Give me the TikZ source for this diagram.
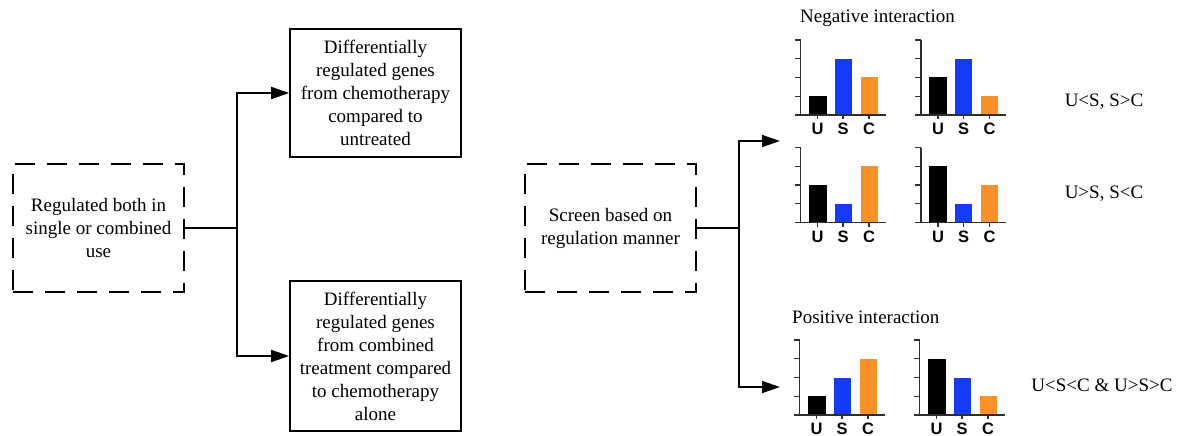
\documentclass[tikz,border=0pt]{standalone}
\usepackage{fontspec}
\setmainfont{Liberation Serif}
\newfontfamily\barfont{Liberation Sans}
\usetikzlibrary{arrows.meta}

\definecolor{barblue}{RGB}{22,58,248}
\definecolor{barorange}{RGB}{250,145,40}
\definecolor{axisgray}{RGB}{45,45,45}

\tikzset{
	solidbox/.style={draw, line width=1.6pt, minimum width=171pt, minimum height=128pt, inner sep=0pt, align=center},
	dashbox/.style={solidbox, dash pattern=on 20pt off 12pt},
	link/.style={line width=1.6pt},
	barlbl/.style={font=\barfont\bfseries\fontsize{16.5}{16.5}\selectfont, anchor=north, inner sep=0pt}
}

% bar chart: name, axis x, baseline y, heights of U, S, C
\newcommand{\drawbars}[6]{%
	\begin{scope}[shift={(#2,#3)}]
		\fill (8,0) rectangle (26,-18.75*#4);
		\fill [barblue] (34,0) rectangle (51,-18.75*#5);
		\fill [barorange] (60,0) rectangle (77,-18.75*#6);
		\draw [axisgray, line width=1.3pt] (0,-75) -- (0,0);
		\draw [axisgray, line width=1.3pt] (-6,0) -- (85,0);
		\foreach \k in {1,...,4}
			\draw [axisgray, line width=1.1pt] (-6,-18.75*\k) -- (0,-18.75*\k);
		\foreach \xx in {17,42.5,68.5}
			\draw [axisgray, line width=1.1pt] (\xx,0) -- (\xx,4);
		\node (#1-u) [barlbl] at (17,8) {U};
		\node (#1-s) [barlbl] at (42.5,8) {S};
		\node (#1-c) [barlbl] at (68.5,8) {C};
	\end{scope}}

\begin{document}
\begin{tikzpicture}[
	x=1pt, y=-1pt,
	font=\fontsize{19}{23}\selectfont,
	>={Triangle[length=18pt, width=12pt]}
	]
	\useasboundingbox (0,0) rectangle (1179,436);

	% left half
	\node (both) [dashbox] at (98.5,228) {Regulated both in\\single or combined\\use};
	\node (chemo) [solidbox] at (375.5,93) {Differentially\\regulated genes\\from chemotherapy\\compared to\\untreated};
	\node (comb) [solidbox, minimum height=150pt] at (375.5,356) {Differentially\\regulated genes\\from combined\\treatment compared\\to chemotherapy\\alone};
	\draw [link] (both.east) -- (237,228) coordinate (split);
	\draw [link, ->] (split) |- (chemo.west);
	\draw [link, ->] (split) |- (comb.west);

	% right half
	\node (screen) [dashbox] at (610.5,228) {Screen based on\\regulation manner};
	\coordinate (negend) at (780,141);
	\coordinate (posend) at (780,387);
	\draw [link] (screen.east) -- (739,228) coordinate (fork);
	\draw [link, ->] (fork) |- (negend);
	\draw [link, ->] (fork) |- (posend);

	\node (neg) [anchor=base west, inner sep=0pt] at (800,23) {Negative interaction};
	\node (pos) [anchor=base west, inner sep=0pt] at (792,323) {Positive interaction};

	\drawbars{na}{800.5}{115}{1}{3}{2}
	\drawbars{nb}{921}{115}{2}{3}{1}
	\drawbars{nc}{800.5}{222.5}{2}{1}{3}
	\drawbars{nd}{921}{222.5}{3}{1}{2}
	\drawbars{pa}{799.5}{415}{1}{2}{3}
	\drawbars{pb}{919.5}{415}{3}{2}{1}

	\node (rulea) at (1104,102) {U<S, S>C};
	\node (ruleb) at (1104,194) {U>S, S<C};
	\node (rulec) at (1102,385) {U<S<C \& U>S>C};
\end{tikzpicture}
\end{document}
